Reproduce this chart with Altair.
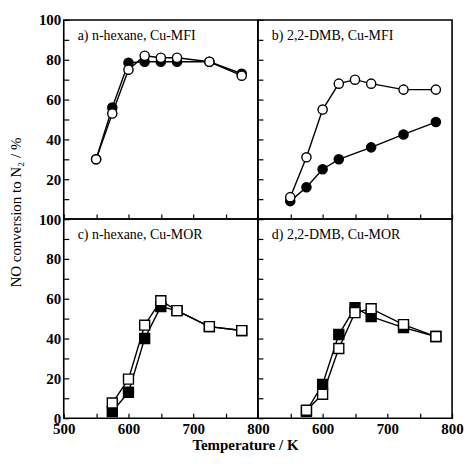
import altair as alt
import pandas as pd

# ---- data ----
T_A = [550, 575, 600, 625, 650, 675, 725, 775]
A_FILLED = [30, 56, 78.5, 79, 79, 79, 79, 73]
A_OPEN = [30, 53, 75, 82, 81, 81, 79, 72]

T_B_FILLED = [550, 575, 600, 625, 675, 725, 775]
B_FILLED = [9, 16, 25, 30, 36, 42.5, 48.7]
T_B_OPEN = [550, 575, 600, 625, 650, 675, 725, 775]
B_OPEN = [11, 31, 55, 68, 70, 68, 65, 65]

T_C = [575, 600, 625, 650, 675, 725, 775]
C_FILLED = [3.3, 13, 40, 56, 54, 46, 44]
C_OPEN = [7.6, 19.6, 46.7, 59, 54, 46, 44]

T_D = [575, 600, 625, 650, 675, 725, 775]
D_FILLED = [3.5, 17, 42, 55.5, 51, 45.5, 41]
D_OPEN = [4, 12, 35, 53, 55, 47, 41]

LABELS = ["a) n-hexane, Cu-MFI", "b) 2,2-DMB, Cu-MFI",
          "c) n-hexane, Cu-MOR", "d) 2,2-DMB, Cu-MOR"]
X_TICKS = list(range(500, 801, 50))
Y_TICKS = list(range(0, 101, 10))

FONT = "Liberation Serif"
W, H = 195, 200


def panel(tf, vf, to, vo, shape, size, label, xlab, ylab, ytitle=None, xtitle=None):
    xaxis = dict(values=X_TICKS, tickSize=5, offset=-5, domain=False, grid=False,
                 labelPadding=3, labelFlush=False, labelOverlap=False)
    if xlab is None:
        xaxis["labels"] = False
    else:
        xaxis["labelExpr"] = xlab
    if xtitle:
        xaxis.update(title=xtitle, titleX=182, titleY=36, titleAlign="center",
                     titleBaseline="alphabetic", titleFontWeight="bold")
    else:
        xaxis["title"] = None
    yaxis = dict(values=Y_TICKS, tickSize=5, offset=-5, domain=False, grid=False,
                 labelPadding=3, labelFlush=False, labelOverlap=False)
    if ylab is None:
        yaxis["labels"] = False
    else:
        yaxis["labelExpr"] = ylab
    if ytitle:
        yaxis.update(title=ytitle, titleX=-53, titleY=193, titleAngle=-90,
                     titleAlign="center", titleBaseline="middle")
    else:
        yaxis["title"] = None

    xenc = alt.X("T:Q", scale=alt.Scale(domain=[500, 800], nice=False), axis=alt.Axis(**xaxis))
    yenc = alt.Y("v:Q", scale=alt.Scale(domain=[0, 100], nice=False), axis=alt.Axis(**yaxis))

    dff = pd.DataFrame({"T": tf, "v": vf})
    dfo = pd.DataFrame({"T": to, "v": vo})
    lf = alt.Chart(dff).mark_line(color="black", strokeWidth=1.4).encode(x=xenc, y=yenc)
    pf = alt.Chart(dff).mark_point(shape=shape, size=size, filled=True, fill="black",
                                   stroke="black", strokeWidth=1.4, opacity=1).encode(x=xenc, y=yenc)
    lo = alt.Chart(dfo).mark_line(color="black", strokeWidth=1.4).encode(x=xenc, y=yenc)
    po = alt.Chart(dfo).mark_point(shape=shape, size=size, filled=True, fill="white",
                                   stroke="black", strokeWidth=1.4, opacity=1).encode(x=xenc, y=yenc)
    txt = alt.Chart(pd.DataFrame({"label": [label]})).mark_text(
        align="left", baseline="alphabetic", font=FONT, fontSize=14, color="black"
    ).encode(x=alt.value(14), y=alt.value(20), text="label:N")
    return alt.layer(lf, pf, lo, po, txt).properties(width=W, height=H)


YT = "NO conversion to N\u2082 / %"
a = panel(T_A, A_FILLED, T_A, A_OPEN, "circle", 85, LABELS[0], None,
          "datum.value % 20 == 0 && datum.value > 0 ? datum.label : ''", ytitle=YT)
b = panel(T_B_FILLED, B_FILLED, T_B_OPEN, B_OPEN, "circle", 85, LABELS[1], None, None)
c = panel(T_C, C_FILLED, T_C, C_OPEN, "square", 100, LABELS[2],
          "datum.value % 100 == 0 ? datum.label : ''",
          "datum.value % 20 == 0 ? datum.label : ''", xtitle="Temperature / K")
d = panel(T_D, D_FILLED, T_D, D_OPEN, "square", 100, LABELS[3],
          "datum.value % 100 == 0 && datum.value > 500 ? datum.label : ''", None)

chart = alt.concat(a, b, c, d, columns=2, spacing=0, bounds="flush").properties(
    padding={"left": 0, "top": 3, "right": 0, "bottom": 0},
    background="white"
).configure_view(stroke="black", strokeWidth=1.6).configure_axis(
    labelFont=FONT, labelFontSize=15, labelFontWeight="bold", labelColor="black",
    titleFont=FONT, titleFontSize=15, titleFontWeight="normal", titleColor="black",
    tickColor="black", tickWidth=1.2
)

chart.save("out.html", embed_options={"renderer": "svg", "actions": False})
